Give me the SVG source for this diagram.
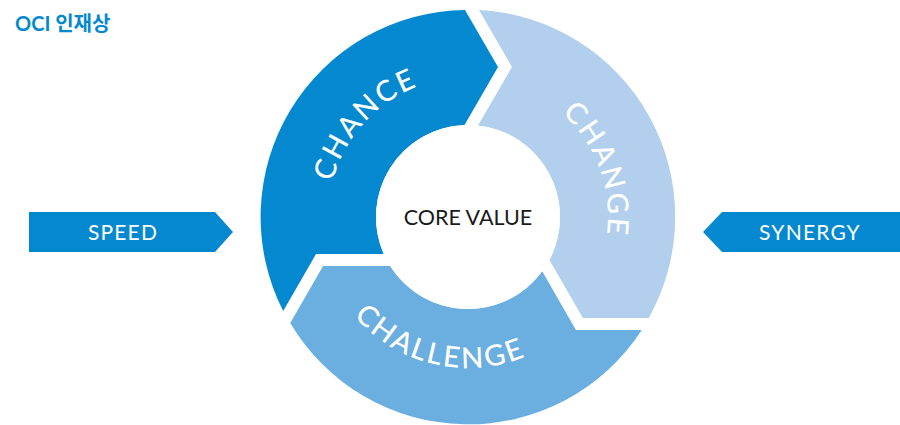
<svg xmlns="http://www.w3.org/2000/svg" xmlns:xlink="http://www.w3.org/1999/xlink" width="900" height="425" viewBox="0 0 900 425">
<style>
.seg-label{font-family:"Lato","Noto Sans",sans-serif;font-size:29px;font-weight:500;fill:#ffffff;letter-spacing:2.5px;}
.tag{font-family:"Lato","Noto Sans",sans-serif;font-size:21px;font-weight:400;fill:#ffffff;letter-spacing:1.2px;text-anchor:middle;}
.core{font-family:"Lato","Noto Sans",sans-serif;font-size:21.5px;font-weight:400;fill:#1a1a1a;text-anchor:middle;}
.title{font-family:"Lato","Noto Sans CJK KR",sans-serif;font-size:20px;font-weight:700;fill:#0489D0;}
.dark{fill:#0489D0;}
.light{fill:#B2D0ED;}
.mid{fill:#6AAFE0;}
</style>
<defs>
<path id="seg" d="M -184.8 94.0 A 207 207 0 0 1 -3 -207 L 30 -150 L -3.5 -92 A 92 92 0 0 0 -84.2 37.1 L -151.9 36.9 Z"/>
<path id="arcChance" d="M -110.3 86.2 A 140 140 0 0 1 74.2 -118.7"/>
<path id="arcChange" d="M -24.3 -137.9 A 140 140 0 0 1 70 121.2"/>
<path id="arcChallenge" d="M -150.8 -7.9 A 151 151 0 0 0 139.0 59.0"/>
</defs>

<g id="title">
<text class="title" x="15" y="31">OCI 인재상</text>
</g>

<g transform="translate(468,217)">
<g id="chance">
<use href="#seg" class="dark"/>
<text class="seg-label"><textPath href="#arcChance" startOffset="50%" text-anchor="middle">CHANCE</textPath></text>
</g>
<g id="change">
<use href="#seg" class="light" transform="rotate(120)"/>
<text class="seg-label"><textPath href="#arcChange" startOffset="50%" text-anchor="middle">CHANGE</textPath></text>
</g>
<g id="challenge">
<use href="#seg" class="mid" transform="rotate(240)"/>
<text class="seg-label"><textPath href="#arcChallenge" startOffset="50%" text-anchor="middle">CHALLENGE</textPath></text>
</g>
<g id="core-value">
<circle r="92" fill="#ffffff"/>
<text class="core" x="0" y="8">CORE VALUE</text>
</g>
</g>

<g id="speed">
<polygon class="dark" points="29,212 215,212 233,232 215,252 29,252"/>
<text class="tag" x="123" y="239.5">SPEED</text>
</g>
<g id="synergy">
<polygon class="dark" points="900,212 722,212 703,232 722,252 900,252"/>
<text class="tag" x="810" y="239.5">SYNERGY</text>
</g>
</svg>
